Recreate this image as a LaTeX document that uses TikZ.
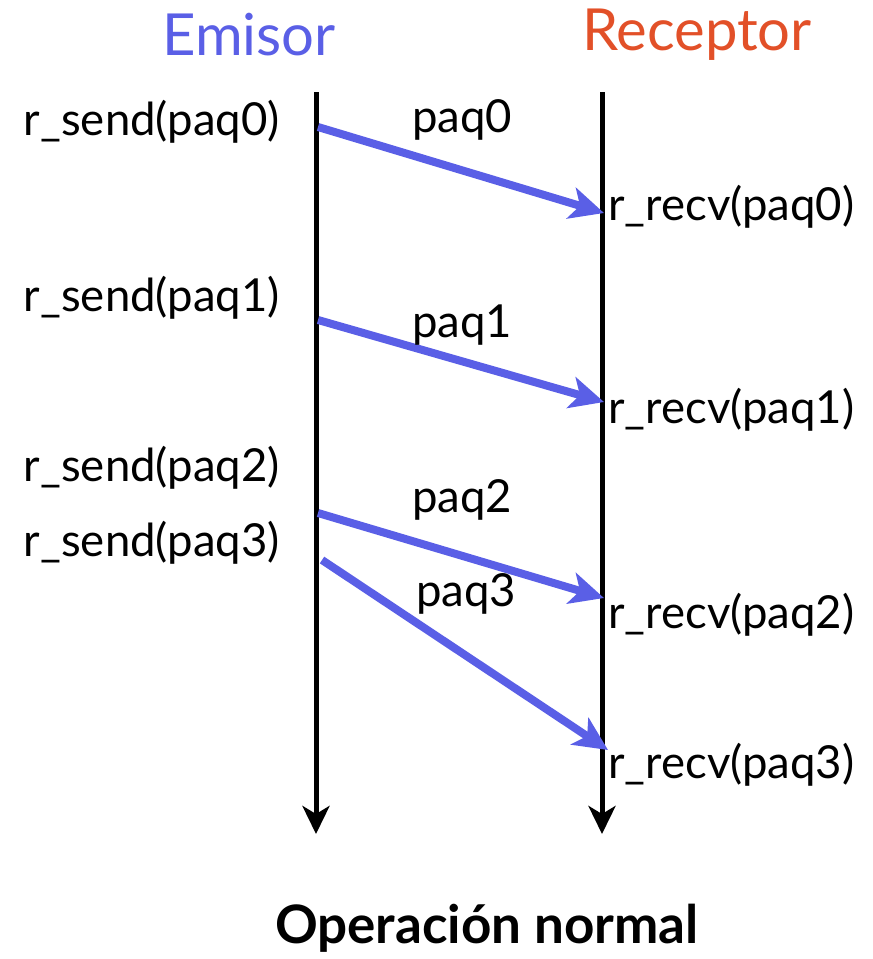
\documentclass[tikz,border=0pt]{standalone}
\usepackage{fontspec}
\setmainfont{Lato}
\usepackage{xcolor}
\usetikzlibrary{arrows.meta}
\definecolor{emisorblue}{RGB}{90,95,230}
\definecolor{receptorred}{RGB}{226,80,40}

\begin{document}
\begin{tikzpicture}[x=1pt,y=-1pt,
  lbl/.style={font=\fontsize{45.5}{50}\selectfont,inner sep=0pt},
  head/.style={font=\fontsize{58}{64}\selectfont,inner sep=0pt},
  timeline/.style={line width=5pt,-{Stealth[length=28pt,width=27pt,inset=8pt]}},
  msg/.style={line width=8pt,color=emisorblue,-{Stealth[length=34pt,width=32pt,inset=9pt]}}]
\useasboundingbox (0,0) rectangle (873,959);
% time lines
\node[head,color=emisorblue] (emisor) at (249,35) {Emisor};
\node[head,color=receptorred] (receptor) at (697,35) {Receptor};
\coordinate (etop) at (316,92);
\coordinate (ebot) at (316,834);
\coordinate (rtop) at (602,92);
\coordinate (rbot) at (602,834);
\draw[timeline] (etop) -- (ebot);
\draw[timeline] (rtop) -- (rbot);
%
\node[lbl,anchor=east] (send0) at (280,122) {r\_send(paq0)};
\node[lbl,anchor=east] (send1) at (280,298) {r\_send(paq1)};
\node[lbl,anchor=east] (send2) at (280,468) {r\_send(paq2)};
\node[lbl,anchor=east] (send3) at (280,543) {r\_send(paq3)};
\node[lbl,anchor=west] (recv0) at (608,207) {r\_recv(paq0)};
\node[lbl,anchor=west] (recv1) at (608,410) {r\_recv(paq1)};
\node[lbl,anchor=west] (recv2) at (608,615) {r\_recv(paq2)};
\node[lbl,anchor=west] (recv3) at (608,765) {r\_recv(paq3)};
%
\coordinate (s0) at (318,127);
\coordinate (r0) at (604,213);
\coordinate (s1) at (318,320);
\coordinate (r1) at (604,402);
\coordinate (s2) at (318,513);
\coordinate (r2) at (604,598);
\coordinate (s3) at (322,560);
\coordinate (r3) at (608,750);
\draw[msg] (s0) -- (r0);
\draw[msg] (s1) -- (r1);
\draw[msg] (s2) -- (r2);
\draw[msg] (s3) -- (r3);
\node[lbl] (paq0) at (462,120) {paq0};
\node[lbl] (paq1) at (462,325) {paq1};
\node[lbl] (paq2) at (462,500) {paq2};
\node[lbl] (paq3) at (466,594) {paq3};
%
\node[font=\fontsize{53}{60}\selectfont\bfseries,inner sep=0pt] (titulo) at (487,928) {Operación normal};
\end{tikzpicture}
\end{document}
